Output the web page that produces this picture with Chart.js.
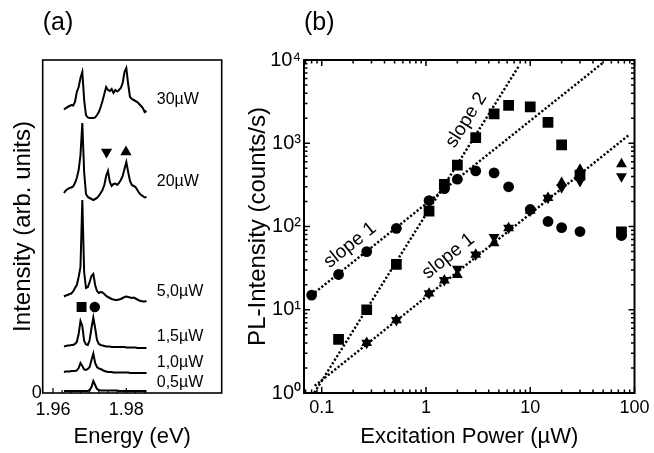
<!DOCTYPE html>
<html>
<head>
<meta charset="utf-8">
<script src="https://cdn.jsdelivr.net/npm/chart.js@4.4.1/dist/chart.umd.min.js"></script>
<style>
  html, body { margin: 0; padding: 0; background: #fff; }
  #wrap { position: relative; width: 654px; height: 453px; overflow: hidden; background: #fff; }
  .pane { position: absolute; top: 0; }
</style>
</head>
<body>
<div id="wrap">
  <div class="pane" style="left:0;width:230px;height:453px"><canvas id="spec" width="230" height="453"></canvas></div>
  <div class="pane" style="left:230px;width:424px;height:453px"><canvas id="power" width="424" height="453"></canvas></div>
</div>
<script>
// ---------- (a) PL spectra at several excitation powers ----------
const energy = [1.9630, 1.9635, 1.9640, 1.9645, 1.9650, 1.9655, 1.9660, 1.9665, 1.9670, 1.9675,
                1.9680, 1.9685, 1.9690, 1.9695, 1.9700, 1.9705, 1.9710, 1.9715, 1.9720, 1.9725,
                1.9730, 1.9735, 1.9740, 1.9745, 1.9750, 1.9755, 1.9760, 1.9765, 1.9770, 1.9775,
                1.9780, 1.9785, 1.9790, 1.9795, 1.9800, 1.9805, 1.9810, 1.9815, 1.9820, 1.9825,
                1.9830, 1.9835, 1.9840, 1.9845, 1.9850, 1.9855];

const spec30 = [10.5, 12, 13, 14, 15, 14.5, 18, 28, 33, 42, 48, 20, 5, 2.5, 2, 2, 2, 2.5, 5, 8,
                13, 19, 26, 33, 30, 29, 31, 27, 30, 28.5, 30, 32, 37, 48, 52, 36, 23, 21, 20, 19,
                18, 16, 14, 12, 8, 9];
const spec20 = [7, 9.5, 11, 12, 12.5, 13.5, 17, 22, 30, 45, 77, 28, 6, 3, 2, 1, 0, 1, 2, 4,
                7, 10, 15, 24, 29, 18, 14, 16, 16.5, 15, 17, 20, 24, 31, 38, 28, 19, 15, 14, 13,
                10, 7, 5, 4, 2.5, 3];
const spec5  = [5.5, 6.5, 7, 8, 8.5, 10.5, 14, 17, 25, 35, 102, 30, 14, 15, 20, 26, 28, 17, 11, 9,
                10, 9.5, 8, 6, 5, 4, 3, 2.5, 2, 2, 2.5, 3, 4, 5, 5.5, 5, 4.5, 4, 4.5, 3.5,
                2.5, 1.5, 1, 0.5, 0.5, 1];
const spec15 = [1.5, 2, 2.5, 2.5, 3, 3, 4, 6, 14, 27, 22, 7, 3.5, 3, 8, 20, 30.5, 20, 8, 4,
                3, 2.5, 2, 1.5, 1.5, 1.5, 1, 1, 1, 1, 1, 1, 1, 1, 0.5, 0.5, 0.5, 0.5, 0.5, 0.5,
                0, 0, 0, 0, 0, 0];
const spec10 = [1, 1.5, 1.5, 1.5, 2, 2, 2, 2.5, 5, 10, 7, 3.5, 3, 4, 6, 13, 19.5, 10, 6, 4.5,
                4, 3, 2, 1.5, 1, 1, 1, 0.5, 0.5, 0.5, 0.5, 0.5, 0.5, 0.5, 0.5, 0.5, 0, 0, 0, 0,
                0, 0, 0, 0, 0, 0];
const spec05 = [0, 0, 0, 0, 0, 0, 0, 0, 0, 0, 0, 0, 0, 0, 1, 4, 10, 6, 2, 1,
                0.5, 0.5, 0.5, 0.5, 0.5, 0.5, 0.5, 0.5, 0.5, 0.5, 0, 0, 0, 0, 0, 0, 0, 0, 0, 0,
                0, 0, 0, 0, 0, 0];

const spectra      = [spec30, spec20, spec5, spec15, spec10, spec05];
const powerLabels  = ['30µW', '20µW', '5,0µW', '1,5µW', '1,0µW', '0,5µW'];
const stackOffset  = [273, 193, 91, 45, 20, 2];      // vertical shift of each trace (arb. units)
const labelLevel   = [293, 211, 101, 56, 30, 10];    // height of each power label (arb. units)

// peak identifiers: biexciton (square), exciton (circle), two further lines (triangles)
const peakMarkE = [1.9678, 1.9714, 1.9746, 1.9799];
const peakMarkI = [86, 86, 241, 241];

const energyTickLabels = [1.96, 1.98];

// ---------- (b) integrated PL intensity vs. excitation power ----------
const powers   = [0.08, 0.145, 0.27, 0.52, 1.07, 1.5, 2.0, 3.0, 4.5, 6.2, 10, 14.8, 20, 30, 75];
const circleI  = [15, 26.5, 50, 95, 205, 285, 370, 465, 440, 300, 160, 115, 97, 87, 78];
const squareI  = [null, 4.4, 10, 35, 153, 320, 545, 1170, 2250, 2850, 2740, 1780, 955, 415, 86];
const downTriI = [null, null, 4.0, 7.5, 15.7, 22.6, 31, 46, 74.5, 96, 155, 221, 294, 350, 399];
const upTriI   = [null, null, 4.0, 7.5, 15.7, 22.6, 26.2, 46, 63, 96, 155, 221, 334, 482, 561];

// power-law guides (end points)
const fitUpperX = [0.08, 50],    fitUpperY = [15, 9300];    // slope 1
const fitSlope2X = [0.085, 7.8], fitSlope2Y = [1.01, 8520]; // slope 2
const fitLowerX = [0.0857, 90],  fitLowerY = [1.22, 1278];  // slope 1

const slopeText = ['slope 1', 'slope 2', 'slope 1'];
const slopeAtX  = [0.187, 2.44, 1.64];
const slopeAtY  = [59.6, 1896, 44];

const powerTickLabels = [0.1, 1, 10, 100];
const intensityTickLabels = [1, 10, 100, 1000, 10000];

// ------------------------------------------------------------
const FONT = "'Liberation Sans', Arial, Helvetica, sans-serif";
Chart.defaults.font.family = FONT;
Chart.defaults.color = '#000';

const pts = (xs, ys) => xs.map((x, i) => ({ x: x, y: ys[i] })).filter(p => p.y !== null);

// frame and inward ticks for the spectra panel, plus power labels
const frameA = {
  id: 'frameA',
  afterDatasetsDraw(chart) {
    const { ctx, chartArea: a, scales: { x, y } } = chart;
    ctx.save();
    ctx.strokeStyle = '#000';
    ctx.lineWidth = 1.2;
    ctx.beginPath();
    for (let k = 0; k <= 10; k++) {
      const v = 1.96 + k * 0.0025;
      const px = x.getPixelForValue(v);
      const len = (k % 8 === 0) ? 5 : 3;
      ctx.moveTo(px, a.bottom);
      ctx.lineTo(px, a.bottom - len);
    }
    ctx.stroke();
    ctx.lineWidth = 1.6;
    ctx.strokeRect(a.left, a.top, a.right - a.left, a.bottom - a.top);
    ctx.fillStyle = '#000';
    ctx.font = '16px ' + FONT;
    ctx.textAlign = 'left';
    ctx.textBaseline = 'middle';
    powerLabels.forEach((t, i) => {
      ctx.fillText(t, x.getPixelForValue(1.9883), y.getPixelForValue(labelLevel[i]));
    });
    ctx.restore();
  }
};

const traceSets = spectra.map((s, k) => ({
  type: 'line',
  data: energy.map((e, i) => ({ x: e, y: stackOffset[k] + s[i] })),
  borderColor: '#000',
  borderWidth: 2,
  pointRadius: 0,
  tension: 0,
  fill: false
}));

new Chart(document.getElementById('spec'), {
  type: 'scatter',
  data: {
    datasets: traceSets.concat([{
      data: pts(peakMarkE, peakMarkI),
      pointStyle: ['rect', 'circle', 'triangle', 'triangle'],
      rotation: [0, 0, 180, 0],
      pointRadius: [7, 5.2, 6.5, 6.5],
      pointBackgroundColor: '#000',
      pointBorderColor: '#000',
      pointBorderWidth: 0
    }])
  },
  options: {
    responsive: false,
    animation: false,
    devicePixelRatio: 1,
    layout: { padding: { left: 0, right: 8.3, top: 0, bottom: 0 } },
    plugins: {
      legend: { display: false },
      tooltip: { enabled: false },
      title: {
        display: true, text: '(a)', align: 'start', fullSize: false,
        font: { size: 25, weight: 'normal' }, padding: { top: 8, bottom: 22 }, color: '#000'
      }
    },
    scales: {
      x: {
        type: 'linear', min: 1.9572, max: 2.006, bounds: 'data',
        grid: { display: false, drawTicks: false }, border: { display: false },
        afterBuildTicks: s => { s.ticks = energyTickLabels.map(v => ({ value: v })); },
        ticks: { font: { size: 18 }, padding: 6, maxRotation: 0, autoSkip: false,
                 callback: v => Number(v).toFixed(2) },
        title: { display: true, text: 'Energy (eV)', font: { size: 22 }, padding: { top: 0, bottom: 2.8 } },
        afterFit: s => { s.height = 60; }
      },
      y: {
        type: 'linear', min: 0, max: 333, bounds: 'data',
        grid: { display: false, drawTicks: false }, border: { display: false },
        afterBuildTicks: s => { s.ticks = [{ value: 0 }]; },
        ticks: { font: { size: 18 }, padding: 1, callback: v => String(v) },
        title: { display: true, text: 'Intensity (arb. units)', font: { size: 24 }, padding: { top: 8.6, bottom: 0 } },
        afterFit: s => { s.width = 42.7; }
      }
    }
  },
  plugins: [frameA]
});

// frame, inward log ticks and slope annotations for the power panel
const frameB = {
  id: 'frameB',
  afterDatasetsDraw(chart) {
    const { ctx, chartArea: a, scales: { x, y } } = chart;
    ctx.save();
    ctx.strokeStyle = '#000';
    ctx.lineWidth = 1.5;
    ctx.beginPath();
    for (let d = -2; d <= 2; d++) {
      for (let m = 1; m <= 9; m++) {
        const v = m * Math.pow(10, d);
        if (v < x.min || v > x.max * 1.0001) continue;
        const px = x.getPixelForValue(v);
        const len = m === 1 ? 6 : 3.5;
        ctx.moveTo(px, a.bottom); ctx.lineTo(px, a.bottom - len);
        ctx.moveTo(px, a.top);    ctx.lineTo(px, a.top + len);
      }
    }
    for (let d = 0; d <= 4; d++) {
      for (let m = 1; m <= 9; m++) {
        const v = m * Math.pow(10, d);
        if (v < y.min || v > y.max * 1.0001) continue;
        const py = y.getPixelForValue(v);
        const len = m === 1 ? 6 : 3.5;
        ctx.moveTo(a.left, py);  ctx.lineTo(a.left + len, py);
        ctx.moveTo(a.right, py); ctx.lineTo(a.right - len, py);
      }
    }
    ctx.stroke();
    ctx.lineWidth = 2;
    ctx.strokeRect(a.left, a.top, a.right - a.left, a.bottom - a.top);

    const fits = [[fitUpperX, fitUpperY], [fitSlope2X, fitSlope2Y], [fitLowerX, fitLowerY]];
    ctx.fillStyle = '#000';
    ctx.font = '19px ' + FONT;
    ctx.textAlign = 'center';
    ctx.textBaseline = 'middle';
    slopeText.forEach((t, i) => {
      const f = fits[i];
      const ang = Math.atan2(y.getPixelForValue(f[1][1]) - y.getPixelForValue(f[1][0]),
                             x.getPixelForValue(f[0][1]) - x.getPixelForValue(f[0][0]));
      ctx.save();
      ctx.translate(x.getPixelForValue(slopeAtX[i]), y.getPixelForValue(slopeAtY[i]));
      ctx.rotate(ang);
      ctx.fillText(t, 0, 0);
      ctx.restore();
    });
    ctx.restore();
  }
};

const guide = (xs, ys) => ({
  data: pts(xs, ys), showLine: true, borderColor: '#000', borderWidth: 2.4,
  borderDash: [2.2, 2.0], pointRadius: 0, fill: false
});
const markers = (ys, style, r, rot) => ({
  data: pts(powers, ys), pointStyle: style, pointRadius: r, rotation: rot,
  pointBackgroundColor: '#000', pointBorderColor: '#000', pointBorderWidth: 0, showLine: false
});

const supDigits = ['\u2070', '\u00B9', '\u00B2', '\u00B3', '\u2074'];

new Chart(document.getElementById('power'), {
  type: 'scatter',
  data: {
    datasets: [
      markers(circleI, 'circle', 5.4, 0),
      markers(squareI, 'rect', 7.6, 0),
      markers(downTriI, 'triangle', 6.3, 180),
      markers(upTriI, 'triangle', 6.3, 0),
      guide(fitUpperX, fitUpperY),
      guide(fitSlope2X, fitSlope2Y),
      guide(fitLowerX, fitLowerY)
    ]
  },
  options: {
    responsive: false,
    animation: false,
    devicePixelRatio: 1,
    layout: { padding: { left: 0, right: 19.5, top: 0, bottom: 0 } },
    plugins: {
      legend: { display: false },
      tooltip: { enabled: false },
      title: {
        display: true, text: '(b)', align: 'start', fullSize: false,
        font: { size: 25, weight: 'normal' }, padding: { top: 8, bottom: 22 }, color: '#000'
      }
    },
    scales: {
      x: {
        type: 'logarithmic', min: 0.0676, max: 100, bounds: 'data',
        grid: { display: false, drawTicks: false }, border: { display: false },
        afterBuildTicks: s => { s.ticks = powerTickLabels.map(v => ({ value: v })); },
        ticks: { font: { size: 18 }, padding: 4, maxRotation: 0, autoSkip: false,
                 callback: v => String(v) },
        title: { display: true, text: 'Excitation Power (µW)', font: { size: 22 }, padding: { top: 0, bottom: 2.8 } },
        afterFit: s => { s.height = 60; }
      },
      y: {
        type: 'logarithmic', min: 1, max: 10000, bounds: 'data',
        grid: { display: false, drawTicks: false }, border: { display: false },
        afterBuildTicks: s => { s.ticks = intensityTickLabels.map(v => ({ value: v })); },
        ticks: { font: { size: 20 }, padding: 3, autoSkip: false,
                 callback: v => '10' + supDigits[Math.round(Math.log10(v))] },
        title: { display: true, text: 'PL-Intensity (counts/s)', font: { size: 24 }, padding: { top: 13.6, bottom: 0 } },
        afterFit: s => { s.width = 74; }
      }
    }
  },
  plugins: [frameB]
});
</script>
</body>
</html>
